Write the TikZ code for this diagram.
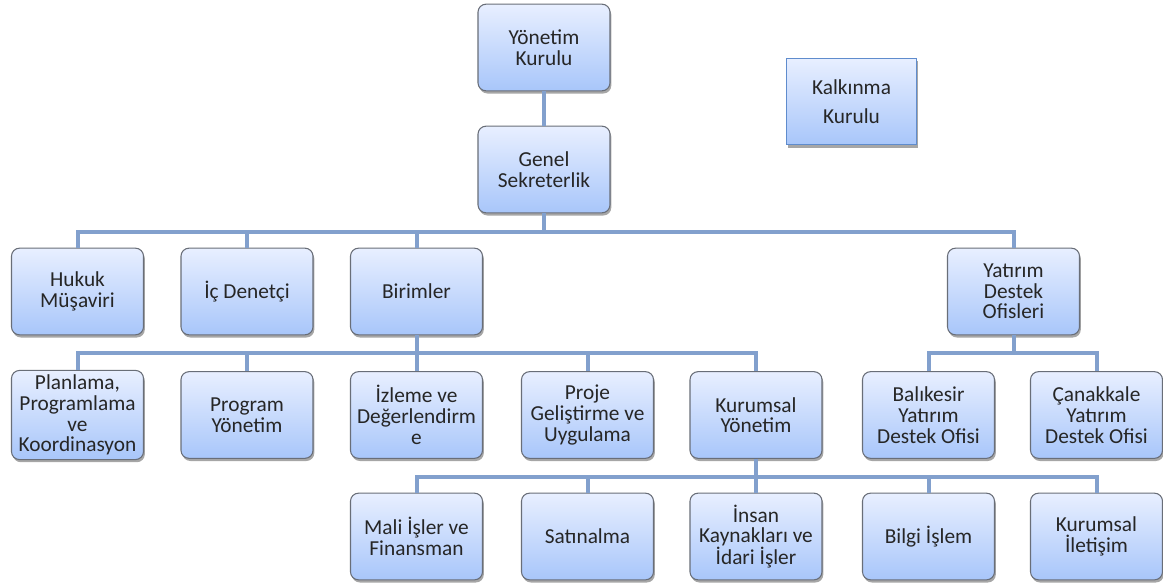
\documentclass[tikz,border=0pt]{standalone}
\usepackage{fontspec}
\setmainfont{Carlito}
\usepackage{xcolor}
\usepackage{tikz}
\usetikzlibrary{positioning,shadows}

\definecolor{boxtop}{RGB}{232,239,255}
\definecolor{boxbot}{RGB}{168,198,250}
\definecolor{boxline}{RGB}{105,110,120}
\definecolor{linkcol}{RGB}{130,160,205}
\definecolor{kline}{RGB}{95,140,205}

\begin{document}
\begin{tikzpicture}[
  x=0.75pt, y=-0.75pt,
  box/.style={draw=boxline, line width=0.8pt, rounded corners=6pt, top color=boxtop, bottom color=boxbot,
    minimum width=99pt, minimum height=65pt, align=center, text=black!85,
    font=\fontsize{16}{15.5}\selectfont,
    drop shadow={shadow xshift=1pt, shadow yshift=-2pt, opacity=0.35, fill=black}},
  kbox/.style={box, draw=kline, rounded corners=0pt, minimum width=97pt,
    font=\fontsize{16}{22}\selectfont},
  link/.style={draw=linkcol, line width=3pt}
]
\useasboundingbox (0,0) rectangle (1163,586);

% Top
\node[box] (yk) at (544,47.5) {Yönetim\\Kurulu};
\node[kbox] (kk) at (851.5,101.5) {Kalkınma\\Kurulu};
\node[box] (gs) at (544,169.5) {Genel\\Sekreterlik};

% Second row
\node[box] (hukuk) at (77.5,291.5) {Hukuk\\Müşaviri};
\node[box] (icden) at (247,291.5) {İç Denetçi};
\node[box] (birim) at (416.5,291.5) {Birimler};
\node[box] (yatirim) at (1013.5,291.5) {Yatırım\\Destek\\Ofisleri};

% Units
\node[box] (plan) at (77.5,415) {Planlama,\\Programlama\\ve\\Koordinasyon};
\node[box] (progr) at (247,415) {Program\\Yönetim};
\node[box] (izleme) at (416.5,415) {İzleme ve\\Değerlendirm\\e};
\node[box] (proje) at (587.5,415) {Proje\\Geliştirme ve\\Uygulama};
\node[box] (kurum) at (756,415) {Kurumsal\\Yönetim};

% Offices
\node[box] (balik) at (928.5,415) {Balıkesir\\Yatırım\\Destek Ofisi};
\node[box] (canak) at (1096.5,415) {Çanakkale\\Yatırım\\Destek Ofisi};

% Corporate management
\node[box] (mali) at (416.5,536.5) {Mali İşler ve\\Finansman};
\node[box] (satin) at (587.5,536.5) {Satınalma};
\node[box] (insan) at (756,536.5) {İnsan\\Kaynakları ve\\İdari İşler};
\node[box] (bilgi) at (928.5,536.5) {Bilgi İşlem};
\node[box] (ileti) at (1096.5,536.5) {Kurumsal\\İletişim};

% Bus points
\coordinate (bus1) at (544,232);
\coordinate (bus2) at (416.5,353);
\coordinate (bus3) at (1013.5,353);
\coordinate (bus4) at (756,477);

% Connectors
\draw[link] (yk.south) -- (gs.north);
\foreach \c in {hukuk,icden,birim,yatirim}
  \draw[link] (gs.south) -- (bus1) -| (\c.north);
\foreach \c in {plan,progr,izleme,proje,kurum}
  \draw[link] (birim.south) -- (bus2) -| (\c.north);
\foreach \c in {balik,canak}
  \draw[link] (yatirim.south) -- (bus3) -| (\c.north);
\foreach \c in {mali,satin,insan,bilgi,ileti}
  \draw[link] (kurum.south) -- (bus4) -| (\c.north);

\end{tikzpicture}
\end{document}
